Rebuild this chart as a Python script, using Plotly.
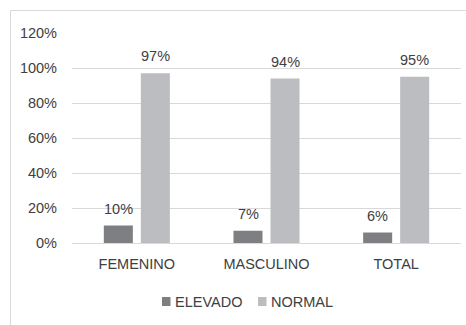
import plotly.graph_objects as go

# Share of each group by classification
categories = ["FEMENINO", "MASCULINO", "TOTAL"]
elevado = [10, 7, 6]
normal = [97, 94, 95]
y_ticks = [0, 20, 40, 60, 80, 100, 120]

FONT = "Liberation Sans, Arial, sans-serif"
TEXT = "#404040"
DARK = "#7e7f82"
LIGHT = "#bcbdc1"
GRID = "#d9d9d9"

# Plot area geometry in pixels (used for paper-coordinate helpers)
W, H = 466, 325
ML, MR, MT, MB = 72, 5, 33, 82
PW, PH = W - ML - MR, H - MT - MB


def px(x):
    return (x - ML) / PW


def py(y):
    return (H - MB - y) / PH


fig = go.Figure()
series = [("ELEVADO", elevado, DARK, -18.5), ("NORMAL", normal, LIGHT, 18.5)]
for name, vals, color, _ in series:
    fig.add_trace(go.Bar(name=name, x=categories, y=vals, showlegend=False,
                         marker=dict(color=color, line=dict(width=0))))

# Value labels above each bar (pixel offset of each bar within its group)
for _, vals, _, dx in series:
    for c, v in zip(categories, vals):
        fig.add_annotation(x=c, y=v, text=f"{v}%", showarrow=False,
                           xshift=dx, yshift=7, yanchor="bottom",
                           font=dict(family=FONT, size=14.5, color=TEXT))

# Compact legend below the axis: small swatch followed by the series name
legend_x = [162, 258]
for (name, _, color, _), lx in zip(series, legend_x):
    fig.add_shape(type="rect", xref="paper", yref="paper",
                  x0=px(lx), x1=px(lx + 8.5), y0=py(306), y1=py(297),
                  fillcolor=color, line=dict(width=0))
    fig.add_annotation(xref="paper", yref="paper", x=px(lx + 10.5), y=py(301.5),
                       text=name, showarrow=False, xanchor="left",
                       yanchor="middle",
                       font=dict(family=FONT, size=14.5, color=TEXT))

# Chart frame (top and left edges)
fig.add_shape(type="line", xref="paper", yref="paper",
              x0=px(10.5), x1=px(470), y0=py(10.5), y1=py(10.5),
              line=dict(color=GRID, width=1))
fig.add_shape(type="line", xref="paper", yref="paper",
              x0=px(10.5), x1=px(10.5), y0=py(330), y1=py(10.5),
              line=dict(color=GRID, width=1))

fig.update_layout(
    width=W, height=H,
    margin=dict(l=ML, r=MR, t=MT, b=MB),
    paper_bgcolor="white", plot_bgcolor="white",
    barmode="group", bargap=0.429, bargroupgap=0.216,
    font=dict(family=FONT, size=14.5, color=TEXT),
    showlegend=False,
    xaxis=dict(showgrid=False, showline=True, linecolor=GRID, linewidth=1,
               ticks="", ticklabelstandoff=8,
               tickfont=dict(family=FONT, size=14.5, color=TEXT)),
    yaxis=dict(range=[0, 120], tickvals=y_ticks,
               ticktext=[f"{t}%" for t in y_ticks],
               showgrid=True, gridcolor=GRID, gridwidth=1,
               zeroline=True, zerolinecolor=GRID, zerolinewidth=1,
               showline=False, ticks="", ticklabelstandoff=14,
               tickfont=dict(family=FONT, size=14.5, color=TEXT)),
)

fig.write_html("out.html")
